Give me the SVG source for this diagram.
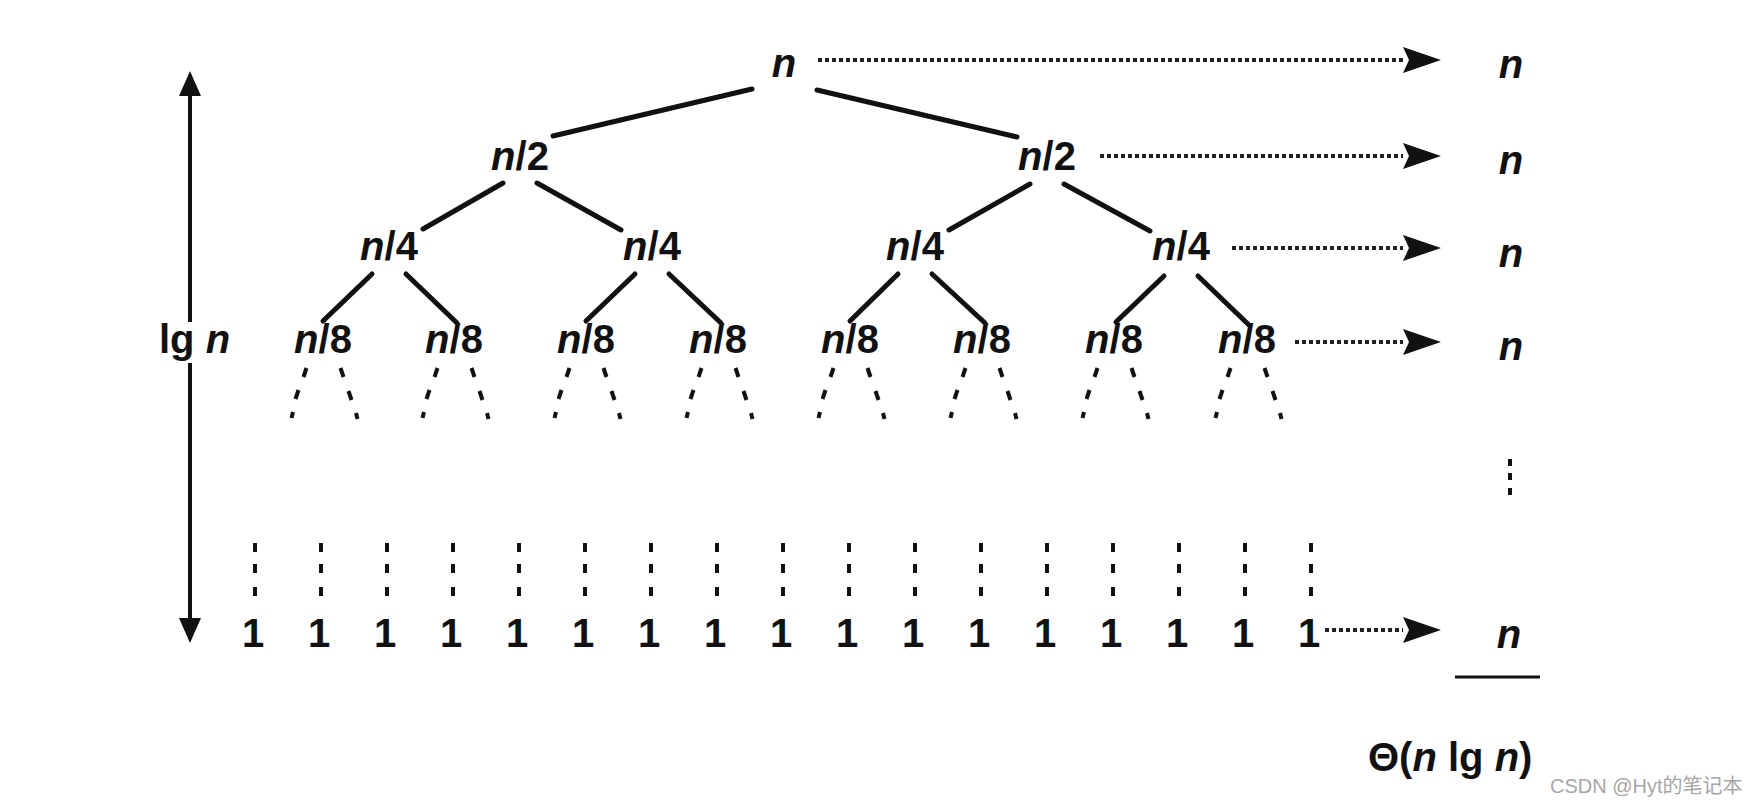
<svg xmlns="http://www.w3.org/2000/svg" width="1744" height="806" viewBox="0 0 1744 806">
<style>
.lbl{font-family:"Liberation Sans",Arial,sans-serif;font-weight:bold;font-size:40px;fill:#111;text-anchor:middle}
.st{text-anchor:start}
.it{font-style:italic}
.edge{stroke:#111;stroke-width:5;stroke-linecap:round;fill:none}
.dotl{stroke:#222;stroke-width:4;stroke-dasharray:4 3;fill:none}
.bd{stroke:#111;stroke-width:4;fill:none}
.ax{stroke:#111;stroke-width:4;fill:none}
.wm{font-family:"Liberation Sans","Noto Sans CJK SC",sans-serif;font-size:20px;fill:#a6a6a6}
</style>
<defs>
<marker id="dah" markerUnits="userSpaceOnUse" markerWidth="44" markerHeight="30" viewBox="0 -15 44 30" refX="0" refY="0" orient="auto">
<path d="M0,-13 L38,0 L0,13 L6,0 Z" fill="#111"/>
</marker>
<marker id="sah" markerUnits="userSpaceOnUse" markerWidth="30" markerHeight="26" viewBox="0 -13 30 26" refX="0" refY="0" orient="auto">
<path d="M0,-11 L25,0 L0,11 Z" fill="#111"/>
</marker>
<g id="bdots">
<line class="bd" x1="-16.5" y1="368" x2="-19.5" y2="377"/>
<line class="bd" x1="-24.5" y1="390" x2="-27.5" y2="399"/>
<line class="bd" x1="-30" y1="412" x2="-31.5" y2="418"/>
<line class="bd" x1="17.5" y1="368" x2="20.5" y2="377"/>
<line class="bd" x1="25.5" y1="391" x2="28.5" y2="400"/>
<line class="bd" x1="33" y1="413" x2="34.5" y2="419"/>
</g>
<g id="ldots" fill="#111">
<rect x="-2" y="543" width="4" height="9"/>
<rect x="-2" y="564" width="4" height="9"/>
<rect x="-2" y="587" width="4" height="9"/>
</g>
</defs>
<rect width="1744" height="806" fill="#fff"/>

<g id="connectors">
<!-- tree edges -->
<line class="edge" x1="752" y1="89" x2="553" y2="136"/>
<line class="edge" x1="817" y1="90" x2="1017" y2="137"/>
<line class="edge" x1="503" y1="183" x2="423" y2="229"/>
<line class="edge" x1="537" y1="183" x2="621" y2="230"/>
<line class="edge" x1="1030" y1="184" x2="949" y2="230"/>
<line class="edge" x1="1064" y1="184" x2="1150" y2="231"/>
<line class="edge" x1="372" y1="274" x2="323" y2="321"/>
<line class="edge" x1="406" y1="274" x2="457" y2="323"/>
<line class="edge" x1="635" y1="274" x2="586" y2="321"/>
<line class="edge" x1="669" y1="274" x2="721" y2="323"/>
<line class="edge" x1="898" y1="274" x2="850" y2="321"/>
<line class="edge" x1="932" y1="274" x2="985" y2="323"/>
<line class="edge" x1="1164" y1="276" x2="1116" y2="322"/>
<line class="edge" x1="1198" y1="276" x2="1249" y2="325"/>
<!-- branch continuation dots -->
<use href="#bdots" x="323"/>
<use href="#bdots" x="454"/>
<use href="#bdots" x="586"/>
<use href="#bdots" x="718"/>
<use href="#bdots" x="850"/>
<use href="#bdots" x="982"/>
<use href="#bdots" x="1114"/>
<use href="#bdots" x="1247"/>
<!-- leaf dots -->
<use href="#ldots" x="255"/>
<use href="#ldots" x="321"/>
<use href="#ldots" x="387"/>
<use href="#ldots" x="453"/>
<use href="#ldots" x="519"/>
<use href="#ldots" x="585"/>
<use href="#ldots" x="651"/>
<use href="#ldots" x="717"/>
<use href="#ldots" x="783"/>
<use href="#ldots" x="849"/>
<use href="#ldots" x="915"/>
<use href="#ldots" x="981"/>
<use href="#ldots" x="1047"/>
<use href="#ldots" x="1113"/>
<use href="#ldots" x="1179"/>
<use href="#ldots" x="1245"/>
<use href="#ldots" x="1311"/>
<!-- dotted cost arrows -->
<line class="dotl" x1="818" y1="60" x2="1403" y2="60" marker-end="url(#dah)"/>
<line class="dotl" x1="1100" y1="156" x2="1403" y2="156" marker-end="url(#dah)"/>
<line class="dotl" x1="1232" y1="248" x2="1403" y2="248" marker-end="url(#dah)"/>
<line class="dotl" x1="1295" y1="342" x2="1403" y2="342" marker-end="url(#dah)"/>
<line class="dotl" x1="1325" y1="630" x2="1403" y2="630" marker-end="url(#dah)"/>
<!-- height arrow -->
<line class="ax" x1="190" y1="322" x2="190" y2="96" marker-end="url(#sah)"/>
<line class="ax" x1="190" y1="363" x2="190" y2="618" marker-end="url(#sah)"/>
<!-- vertical ellipsis and sum rule -->
<g fill="#111">
<rect x="1508" y="459" width="4" height="7"/>
<rect x="1508" y="473" width="4" height="7"/>
<rect x="1508" y="488" width="4" height="7"/>
</g>
<line x1="1455" y1="677" x2="1540" y2="677" stroke="#111" stroke-width="3"/>
</g>

<g id="root"><text class="lbl it" x="784" y="77">n</text></g>
<g id="n2a"><text class="lbl" x="520" y="170"><tspan class="it">n</tspan>/2</text></g>
<g id="n2b"><text class="lbl" x="1047" y="170"><tspan class="it">n</tspan>/2</text></g>
<g id="n4a"><text class="lbl" x="389" y="260"><tspan class="it">n</tspan>/4</text></g>
<g id="n4b"><text class="lbl" x="652" y="260"><tspan class="it">n</tspan>/4</text></g>
<g id="n4c"><text class="lbl" x="915" y="260"><tspan class="it">n</tspan>/4</text></g>
<g id="n4d"><text class="lbl" x="1181" y="260"><tspan class="it">n</tspan>/4</text></g>
<g id="n8a"><text class="lbl" x="323" y="353"><tspan class="it">n</tspan>/8</text></g>
<g id="n8b"><text class="lbl" x="454" y="353"><tspan class="it">n</tspan>/8</text></g>
<g id="n8c"><text class="lbl" x="586" y="353"><tspan class="it">n</tspan>/8</text></g>
<g id="n8d"><text class="lbl" x="718" y="353"><tspan class="it">n</tspan>/8</text></g>
<g id="n8e"><text class="lbl" x="850" y="353"><tspan class="it">n</tspan>/8</text></g>
<g id="n8f"><text class="lbl" x="982" y="353"><tspan class="it">n</tspan>/8</text></g>
<g id="n8g"><text class="lbl" x="1114" y="353"><tspan class="it">n</tspan>/8</text></g>
<g id="n8h"><text class="lbl" x="1247" y="353"><tspan class="it">n</tspan>/8</text></g>

<g id="leaves">
<g id="leaf0"><text class="lbl" x="253" y="647">1</text></g>
<g id="leaf1"><text class="lbl" x="319" y="647">1</text></g>
<g id="leaf2"><text class="lbl" x="385" y="647">1</text></g>
<g id="leaf3"><text class="lbl" x="451" y="647">1</text></g>
<g id="leaf4"><text class="lbl" x="517" y="647">1</text></g>
<g id="leaf5"><text class="lbl" x="583" y="647">1</text></g>
<g id="leaf6"><text class="lbl" x="649" y="647">1</text></g>
<g id="leaf7"><text class="lbl" x="715" y="647">1</text></g>
<g id="leaf8"><text class="lbl" x="781" y="647">1</text></g>
<g id="leaf9"><text class="lbl" x="847" y="647">1</text></g>
<g id="leaf10"><text class="lbl" x="913" y="647">1</text></g>
<g id="leaf11"><text class="lbl" x="979" y="647">1</text></g>
<g id="leaf12"><text class="lbl" x="1045" y="647">1</text></g>
<g id="leaf13"><text class="lbl" x="1111" y="647">1</text></g>
<g id="leaf14"><text class="lbl" x="1177" y="647">1</text></g>
<g id="leaf15"><text class="lbl" x="1243" y="647">1</text></g>
<g id="leaf16"><text class="lbl" x="1309" y="647">1</text></g>
</g>

<g id="sums">
<g id="sum1"><text class="lbl it" x="1511" y="78">n</text></g>
<g id="sum2"><text class="lbl it" x="1511" y="174">n</text></g>
<g id="sum3"><text class="lbl it" x="1511" y="267">n</text></g>
<g id="sum4"><text class="lbl it" x="1511" y="360">n</text></g>
<g id="sum5"><text class="lbl it" x="1509" y="648">n</text></g>
</g>

<g id="height"><text class="lbl st" x="159" y="353">lg <tspan class="it">n</tspan></text></g>
<g id="total"><text class="lbl st" x="1368" y="771">Θ(<tspan class="it">n</tspan> lg <tspan class="it">n</tspan>)</text></g>
<g id="watermark"><text class="wm" x="1550" y="793">CSDN @Hyt的笔记本</text></g>
</svg>
